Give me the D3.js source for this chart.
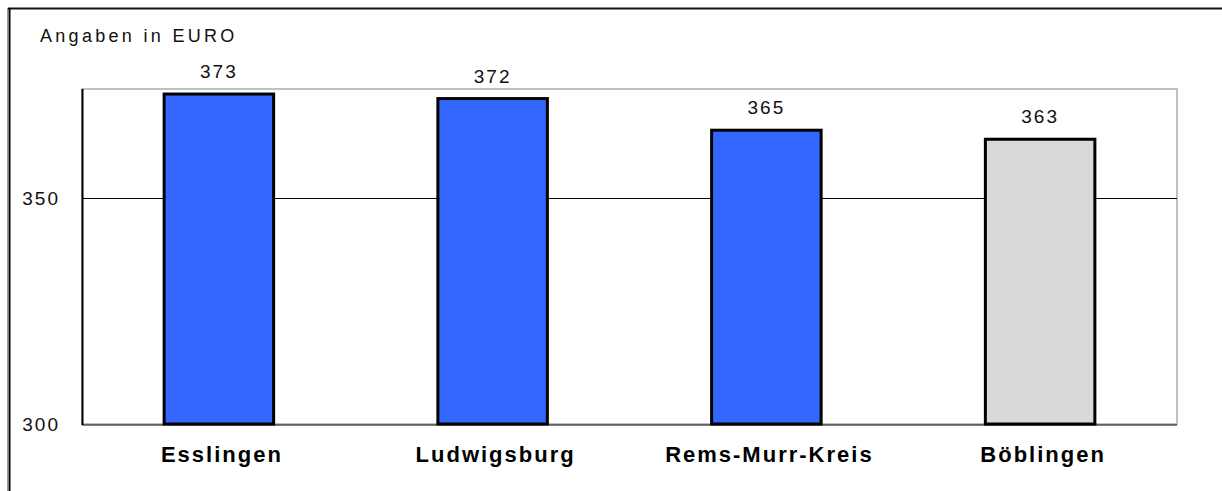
<!DOCTYPE html>
<html>
<head>
<meta charset="utf-8">
<script src="https://cdn.jsdelivr.net/npm/d3@7"></script>
<style>
  body { margin: 0; background: #fff; }
  svg { display: block; font-family: "Liberation Sans", Arial, sans-serif; }
</style>
</head>
<body>
<div id="chart"></div>
<script>
// data
const regions = ["Esslingen", "Ludwigsburg", "Rems-Murr-Kreis", "Böblingen"];
const amounts = [373, 372, 365, 363];
const barColors = ["#3366ff", "#3366ff", "#3366ff", "#d9d9d9"];
const yTicks = [300, 350];
const unitLabel = "Angaben in EURO";

const width = 1222, height = 491;
const plot = { left: 82, right: 1177, top: 89, bottom: 424 };

const svg = d3.select("#chart")
  .append("svg")
  .attr("width", width)
  .attr("height", height);

// outer frame (top and left only are visible)
svg.append("line")
  .attr("x1", 8).attr("x2", width).attr("y1", 8.5).attr("y2", 8.5)
  .style("stroke", "#111").style("stroke-width", 2);
svg.append("line")
  .attr("x1", 7.5).attr("x2", 7.5).attr("y1", 8).attr("y2", height)
  .style("stroke", "#999").style("stroke-width", 1);
svg.append("line")
  .attr("x1", 9.5).attr("x2", 9.5).attr("y1", 8).attr("y2", height)
  .style("stroke", "#000").style("stroke-width", 2);

const x = d3.scaleBand()
  .domain(regions)
  .range([plot.left, plot.right])
  .paddingInner(0.6)
  .paddingOuter(0.3);

const y = d3.scaleLinear()
  .domain([300, 350 + (plot.bottom - plot.top) * 50 / 226 - 50])
  .range([plot.bottom, plot.top]);

// plot area border
svg.append("rect")
  .attr("x", plot.left).attr("y", plot.top)
  .attr("width", plot.right - plot.left).attr("height", plot.bottom - plot.top)
  .style("fill", "none").style("stroke", "#c0c0c0").style("stroke-width", 2);

// gridlines (except the baseline)
svg.selectAll("line.grid")
  .data(yTicks.filter((d) => d !== 300))
  .enter()
  .append("line")
  .attr("class", "grid")
  .attr("x1", plot.left).attr("x2", plot.right)
  .attr("y1", (d) => Math.round(y(d)) + 0.5)
  .attr("y2", (d) => Math.round(y(d)) + 0.5)
  .style("stroke", "#000");

// left axis line and bottom baseline
svg.append("line")
  .attr("x1", plot.left + 0.5).attr("x2", plot.left + 0.5)
  .attr("y1", plot.top).attr("y2", plot.bottom + 1)
  .style("stroke", "#000").style("stroke-width", 2);
svg.append("line")
  .attr("x1", plot.left).attr("x2", plot.right)
  .attr("y1", plot.bottom + 1).attr("y2", plot.bottom + 1)
  .style("stroke", "#000").style("stroke-width", 1);

// y tick labels
svg.selectAll("text.ytick")
  .data(yTicks)
  .enter()
  .append("text")
  .attr("class", "ytick")
  .attr("x", 60)
  .attr("y", (d) => y(d) + 7)
  .attr("text-anchor", "end")
  .style("font-size", "19px")
  .style("letter-spacing", "2px")
  .style("fill", "#111")
  .text((d) => d);

// bars
svg.selectAll("rect.bar")
  .data(amounts)
  .enter()
  .append("rect")
  .attr("class", "bar")
  .attr("x", (d, i) => x(regions[i]))
  .attr("y", (d) => y(d))
  .attr("width", x.bandwidth())
  .attr("height", (d) => y(300) - y(d))
  .style("fill", (d, i) => barColors[i])
  .style("stroke", "#000")
  .style("stroke-width", 3);

// value labels
svg.selectAll("text.value")
  .data(amounts)
  .enter()
  .append("text")
  .attr("class", "value")
  .attr("x", (d, i) => x(regions[i]) + x.bandwidth() / 2)
  .attr("y", (d) => y(d) - 16)
  .attr("text-anchor", "middle")
  .style("font-size", "19px")
  .style("letter-spacing", "2px")
  .style("fill", "#111")
  .text((d) => d);

// category labels
svg.selectAll("text.cat")
  .data(regions)
  .enter()
  .append("text")
  .attr("class", "cat")
  .attr("x", (d) => x(d) + x.bandwidth() / 2 + 3)
  .attr("y", 462)
  .attr("text-anchor", "middle")
  .style("font-size", "22px")
  .style("font-weight", "bold")
  .style("letter-spacing", "2px")
  .style("fill", "#000")
  .text((d) => d);

// unit label
svg.append("text")
  .attr("x", 40)
  .attr("y", 42)
  .style("font-size", "18px")
  .style("letter-spacing", "3.3px")
  .style("fill", "#111")
  .text(unitLabel);
</script>
</body>
</html>
